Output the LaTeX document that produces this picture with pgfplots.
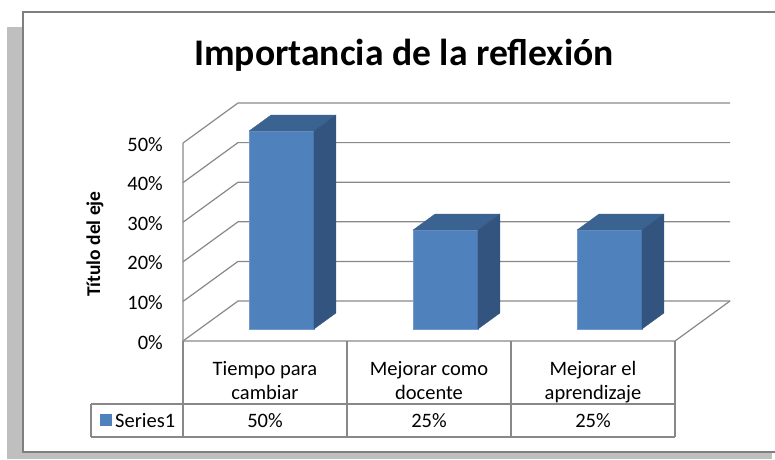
\documentclass[border=0pt]{standalone}
\usepackage{pgfplots}
\pgfplotsset{compat=1.18}
\usepackage{fontspec}
\setmainfont{Carlito}

\definecolor{barfront}{HTML}{4F81BD}
\definecolor{bartop}{HTML}{3B6391}
\definecolor{barside}{HTML}{32547F}
\definecolor{gridc}{HTML}{888888}
\definecolor{framec}{HTML}{7F7F7F}
\definecolor{shadowc}{HTML}{BFBFBF}

% one 3-D column: #1 left x, #2 right x, #3 value (%)
\newcommand{\threedbar}[3]{%
  \addplot3[fill=barfront, draw=barfront!80!white, line width=0.6pt, no marks]
    coordinates {(#1,0.3,0) (#2,0.3,0) (#2,0.3,#3) (#1,0.3,#3) (#1,0.3,0)};
  \addplot3[fill=bartop, draw=bartop, line width=0.3pt, no marks]
    coordinates {(#1,0.3,#3) (#2,0.3,#3) (#2,0.7,#3) (#1,0.7,#3) (#1,0.3,#3)};
  \addplot3[fill=barside, draw=barside, line width=0.3pt, no marks]
    coordinates {(#2,0.3,0) (#2,0.7,0) (#2,0.7,#3) (#2,0.3,#3) (#2,0.3,0)};
}
% image pixel (x,y) -> picture point, relative to the axis origin at pixel (183,341)
\newcommand{\px}[2]{([shift={({((#1)-183)*1pt},{(341-(#2))*1pt})}]O)}

\begin{document}
\begin{tikzpicture}
\begin{axis}[
  x={(164pt,0pt)}, y={(55pt,40pt)}, z={(0pt,3.96pt)},
  hide axis, clip=false,
  xmin=0, xmax=3, ymin=0, ymax=1, zmin=0, zmax=50,
]
\coordinate (O) at (axis cs:0,0,0);
% walls and grid
\pgfplotsinvokeforeach{0,10,20,30,40,50}{
  \addplot3[gridc, line width=1.2pt, no marks] coordinates {(0,0,#1) (0,1,#1) (3,1,#1)};
}
\addplot3[gridc, line width=1.2pt, no marks] coordinates {(0,0,50) (0,0,0) (3,0,0) (3,1,0)};
% data: Tiempo para cambiar 50, Mejorar como docente 25, Mejorar el aprendizaje 25
\threedbar{0.302}{0.698}{50}
\threedbar{1.302}{1.698}{25}
\threedbar{2.302}{2.698}{25}
\end{axis}

% frame and shadow
\fill[shadowc] \px{7}{27} rectangle \px{23}{459};
\fill[shadowc] \px{7}{452} rectangle \px{772}{459};
\draw[framec, line width=1.5pt] \px{776}{12} -- \px{23}{12} -- \px{23}{452} -- \px{776}{452};

% title
\node[anchor=base, font=\fontsize{37.6}{40}\selectfont\bfseries, inner sep=0pt] at \px{404}{65} {Importancia de la reflexión};

% axis title
\node[rotate=90, font=\fontsize{19.5}{22}\selectfont\bfseries, inner sep=0pt] at \px{95}{244} {Título del eje};

% tick labels
\foreach \v in {0,10,20,30,40,50}{
  \node[anchor=base east, font=\fontsize{20.5}{24}\selectfont, inner sep=0pt] at \px{163}{349-3.96*\v} {\v\%};
}

% data table
\draw[gridc, line width=1.2pt] \px{183}{341} -- \px{183}{437};
\draw[gridc, line width=1.2pt] \px{347}{341} -- \px{347}{437};
\draw[gridc, line width=1.2pt] \px{511}{341} -- \px{511}{437};
\draw[gridc, line width=1.2pt] \px{675}{341} -- \px{675}{437};
\draw[gridc, line width=1.2pt] \px{91}{404} -- \px{675}{404};
\draw[gridc, line width=1.2pt] \px{91}{437} -- \px{675}{437};
\draw[gridc, line width=1.2pt] \px{91}{404} -- \px{91}{437};

\begin{scope}[every node/.style={anchor=base, font=\fontsize{20.5}{24}\selectfont, inner sep=0pt}]
\node at \px{265}{375.5} {Tiempo para};
\node at \px{265}{399} {cambiar};
\node at \px{429}{375.5} {Mejorar como};
\node at \px{429}{399} {docente};
\node at \px{593}{375.5} {Mejorar el};
\node at \px{593}{399} {aprendizaje};
\node at \px{265}{427} {50\%};
\node at \px{429}{427} {25\%};
\node at \px{593}{427} {25\%};
\node[anchor=base west] at \px{115}{427} {Series1};
\end{scope}
\fill[barfront] \px{100}{414} rectangle \px{112}{426};

\pgfresetboundingbox
\path \px{0}{0} rectangle \px{775}{459};
\end{tikzpicture}
\end{document}
